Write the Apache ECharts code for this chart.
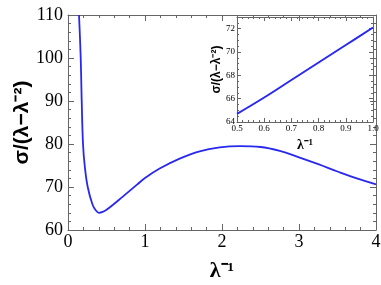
<!DOCTYPE html>
<html><head><meta charset="utf-8">
<script src="https://cdn.jsdelivr.net/npm/echarts@6/dist/echarts.min.js"></script>
<style>html,body{margin:0;padding:0;background:#fff}#c{width:381px;height:285px}</style>
</head><body><div id="c"></div>
<script>
// Main curve: x = λ^-1, y = σ/(λ-λ^-2)
var mainX = [0.143,0.165,0.178,0.195,0.217,0.256,0.317,0.36,0.403,0.45,0.5,0.6,0.7,0.8,0.9,1.0,1.19,1.45,1.71,1.97,2.23,2.5,2.75,3.0,3.25,3.5,3.75,4.0];
var mainY = [110,100,90,80,75,70,66,64.6,64.0,64.2,64.7,66.1,67.6,69.1,70.6,72.1,74.3,76.6,78.3,79.2,79.5,79.3,78.4,76.9,75.3,73.6,72.0,70.6];
// Inset curve
var insetX = [0.5,0.6,0.7,0.8,0.9,1.0];
var insetY = [64.7,66.1,67.6,69.1,70.6,72.1];
var mainXTicks = [0,1,2,3,4];
var mainYTicks = [60,70,80,90,100,110];
var insetXTicks = [0.5,0.6,0.7,0.8,0.9,1.0];
var insetYTicks = [64,66,68,70,72];
var xName = 'λ⁻¹';
var yName = 'σ/(λ−λ⁻²)';

var axisCol = '#666';
var serif = 'Liberation Serif';
function pairs(xs, ys){ return xs.map(function(x,i){return [x, ys[i]];}); }

function mkX(gridIndex, pos, min, max, interval, showLabel, fs, labelFmt, big){
  return {
    type:'value', gridIndex:gridIndex, position:pos, min:min, max:max, interval:interval,
    nameMoveOverlap:false,
    axisLine:{show:true, onZero:false, lineStyle:{color:axisCol, width:1}},
    axisTick:{show:true, inside:true, length: big?6:4, lineStyle:{color:axisCol}},
    minorTick:{show:true, splitNumber:5, length: big?3:2, lineStyle:{color:axisCol}},
    splitLine:{show:false},
    axisLabel:{show:showLabel, color:'#000', fontFamily:serif, fontSize:fs, margin:big?3:2, formatter:labelFmt}
  };
}
function mkY(gridIndex, pos, min, max, interval, showLabel, fs, split, big){
  return {
    type:'value', gridIndex:gridIndex, position:pos, min:min, max:max, interval:interval,
    nameMoveOverlap:false,
    axisLine:{show:true, onZero:false, lineStyle:{color:axisCol, width:1}},
    axisTick:{show:true, inside:true, length: big?6:4, lineStyle:{color:axisCol}},
    minorTick:{show:true, splitNumber:split, length: big?3:2, lineStyle:{color:axisCol}},
    splitLine:{show:false},
    axisLabel:{show:showLabel, color:'#000', fontFamily:serif, fontSize:fs, margin:big?5:2,
      showMaxLabel:true, showMinLabel:true}
  };
}

var xm = mkX(0,'bottom',0,4,1,true,18,function(v){return v;},true);
xm.name = xName;
xm.nameLocation = 'middle';
xm.nameGap = 30;
xm.nameTextStyle = {fontFamily:serif,fontWeight:'bold',fontSize:22,color:'#000'};
var xmTop = mkX(0,'top',0,4,1,false,18,null,true);

var ym = mkY(0,'left',60,110,10,true,18,5,true);
ym.name = yName;
ym.nameLocation = 'middle';
ym.nameGap = 35;
ym.nameRotate = 90;
ym.nameTextStyle = {fontFamily:'Liberation Sans',fontWeight:'bold',fontSize:21,color:'#000'};
var ymRight = mkY(0,'right',60,110,10,false,18,5,true);

var xi = mkX(1,'bottom',0.5,1.0,0.1,true,9,function(v){return v.toFixed(1);},false);
xi.name = xName;
xi.nameLocation = 'middle';
xi.nameGap = 16;
xi.nameTextStyle = {fontFamily:serif,fontWeight:'bold',fontSize:14,color:'#000'};
var xiTop = mkX(1,'top',0.5,1.0,0.1,false,9,null,false);

var yi = mkY(1,'left',64,73,2,true,9,4,false);
yi.axisLabel.formatter = function(v){ return insetYTicks.indexOf(v)>=0 ? v : ''; };
yi.name = yName;
yi.nameLocation = 'middle';
yi.nameGap = 14;
yi.nameRotate = 90;
yi.nameTextStyle = {fontFamily:'Liberation Sans',fontWeight:'bold',fontSize:12,color:'#000'};
var yiRight = mkY(1,'right',64,73,2,false,9,4,false);

var option = {
  animation:false,
  backgroundColor:'#fff',
  grid:[
    {left:68, right:5, top:15, bottom:55, containLabel:false, outerBoundsMode:'none'},
    {left:237, right:8, top:17, bottom:163, containLabel:false, outerBoundsMode:'none'}
  ],
  xAxis:[xm, xmTop, xi, xiTop],
  yAxis:[ym, ymRight, yi, yiRight],
  series:[
    {type:'line', xAxisIndex:0, yAxisIndex:0, data:pairs(mainX, mainY), smooth:0.4, showSymbol:false,
     clip:true, lineStyle:{color:'#2828f0', width:1.8}},
    {type:'line', xAxisIndex:2, yAxisIndex:2, data:pairs(insetX, insetY), smooth:0.4, showSymbol:false,
     clip:true, lineStyle:{color:'#2828f0', width:2}}
  ]
};
echarts.init(document.getElementById('c')).setOption(option);
</script></body></html>
